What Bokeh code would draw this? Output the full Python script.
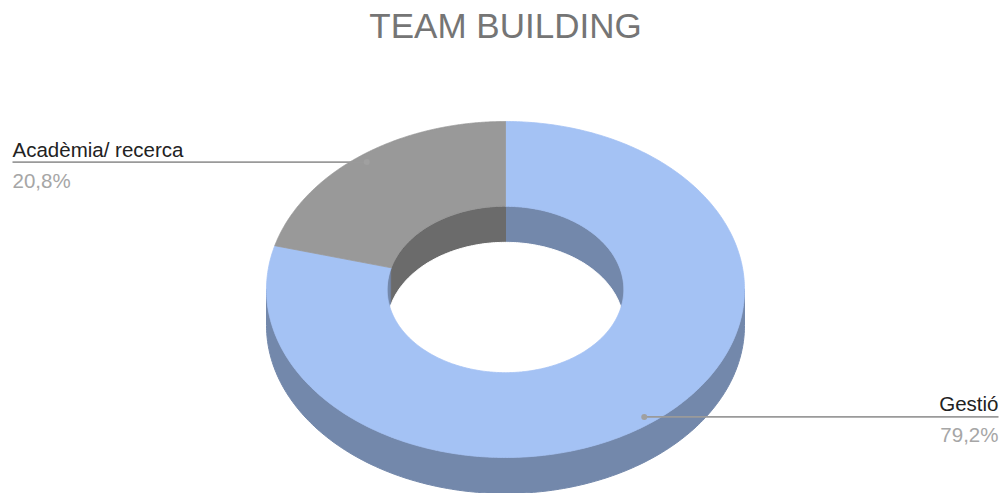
import numpy as np
from bokeh.plotting import figure
from bokeh.models import Range1d
from bokeh.embed import file_html
from bokeh.resources import INLINE
from bokeh.core.properties import value

# ---- data ----
title = "TEAM BUILDING"
categories = ["Gestió", "Acadèmia/ recerca"]
values = [79.2, 20.8]
value_labels = ["79,2%", "20,8%"]
top_colors = ["#a4c2f4", "#999999"]
side_colors = ["#7388ab", "#6b6b6b"]

# ---- layout ----
W, H = 1003, 493
CX, CY = 505, 289
A, B = 239, 168
HOLE = 0.495
DEPTH = 36
FONT = "Liberation Sans"

p = figure(width=W, height=H, output_backend="svg", toolbar_location=None,
           x_range=Range1d(0, W), y_range=Range1d(H, 0), min_border=0)
p.axis.visible = False
p.grid.visible = False
p.outline_line_color = None
p.background_fill_color = "white"
p.border_fill_color = "white"


def pt(t, r, dy=0.0):
    return CX + r * A * np.sin(t), CY - r * B * np.cos(t) + dy


total = float(sum(values))
fr = np.array(values) / total
ends = np.cumsum(fr) * 2 * np.pi
starts = ends - fr * 2 * np.pi


def clip(t1, t2, lo, hi):
    a, b = max(t1, lo), min(t2, hi)
    return (a, b) if b > a else None


# outer side walls (front half: pi/2 .. 3pi/2)
for s, e, c in zip(starts, ends, side_colors):
    seg = clip(s, e, np.pi / 2, 3 * np.pi / 2)
    if seg:
        t = np.linspace(seg[0], seg[1], 200)
        x1, y1 = pt(t, 1.0)
        x2, y2 = pt(t[::-1], 1.0, DEPTH)
        p.patch(np.concatenate([x1, x2]), np.concatenate([y1, y2]),
                fill_color=c, line_color=c, line_width=1)

# inner walls (far half: -pi/2 .. pi/2)
for s, e, c in zip(starts, ends, side_colors):
    for lo, hi in [(0, np.pi / 2), (3 * np.pi / 2, 2 * np.pi)]:
        seg = clip(s, e, lo, hi)
        if seg:
            t = np.linspace(seg[0], seg[1], 200)
            x1, y1 = pt(t, HOLE)
            x2, y2 = pt(t[::-1], HOLE, DEPTH)
            p.patch(np.concatenate([x1, x2]), np.concatenate([y1, y2]),
                    fill_color=c, line_color=c, line_width=1)

# hole floor (white)
t = np.linspace(0, 2 * np.pi, 400)
hx, hy = pt(t, HOLE, DEPTH)
p.patch(hx, hy, fill_color="white", line_color="white", line_width=1)

# top surface slices
for s, e, c in zip(starts, ends, top_colors):
    t = np.linspace(s, e, 400)
    x1, y1 = pt(t, 1.0)
    x2, y2 = pt(t[::-1], HOLE)
    p.patch(np.concatenate([x1, x2]), np.concatenate([y1, y2]),
            fill_color=c, line_color=c, line_width=0.8)

# title
p.text(x=[CX], y=[25], text=[title], text_font=value(FONT),
       text_font_size="35px", text_color="#757575",
       text_align="center", text_baseline="middle")

# leader labels
for s, e, cat, vl in zip(starts, ends, categories, value_labels):
    mid = (s + e) / 2
    dx, dy = pt(mid, 0.955)
    right = np.sin(mid) >= 0
    xe = 998 if right else 12
    align = "right" if right else "left"
    p.line([dx, xe], [dy, dy], line_color="#9a9a9a", line_width=1.6)
    p.scatter([dx], [dy], size=6, fill_color="#a0a0a0", line_color=None)
    p.text(x=[xe], y=[dy - 13], text=[cat], text_font=value(FONT),
           text_font_size="20.5px", text_color="#222222",
           text_align=align, text_baseline="middle")
    p.text(x=[xe], y=[dy + 18], text=[vl], text_font=value(FONT),
           text_font_size="20.5px", text_color="#a6a6a6",
           text_align=align, text_baseline="middle")

open("out.html", "w").write(file_html(p, INLINE))
